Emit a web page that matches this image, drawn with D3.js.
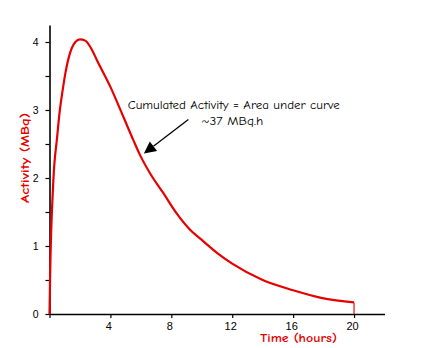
<!DOCTYPE html>
<html>
<head>
<meta charset="utf-8">
<script src="https://cdn.jsdelivr.net/npm/d3@7"></script>
<style>
  html, body { margin: 0; padding: 0; background: #fff; }
  svg { display: block; }
</style>
</head>
<body>
<svg id="chart" width="439" height="348"></svg>
<script>
// ---- data ----
const timeHours = [0, 0.04, 0.25, 0.5, 0.68, 0.85, 1.05, 1.35, 1.7, 2.0, 2.35, 2.8, 3.1, 4.0, 4.85, 5.5, 5.94, 6.6, 7.47, 8.35, 9.23, 10.0, 11.0, 12.0, 14.0, 16.0, 18.0, 20.0];
const activityMBq = [0, 0.55, 1.95, 2.6, 3.0, 3.27, 3.55, 3.84, 4.0, 4.04, 4.02, 3.88, 3.74, 3.34, 2.90, 2.56, 2.34, 2.07, 1.78, 1.48, 1.24, 1.09, 0.90, 0.74, 0.5, 0.35, 0.23, 0.17];
const xTickValues = [0, 4, 8, 12, 16, 20];
const yTickValues = [0, 0.5, 1, 1.5, 2, 2.5, 3, 3.5, 4];
const xTitle = "Time (hours)";
const yTitle = "Activity (MBq)";
const noteLines = ["Cumulated Activity = Area under curve", "~37 MBq.h"];
const noteAnchorT = [12.1, 12.0];      // text centres (hours)
const noteAnchorV = [3.01, 2.78];      // text baselines (MBq)
const arrowFrom = [9.12, 2.86];        // [hours, MBq]
const arrowTo = [6.2, 2.36];

// ---- layout ----
const svg = d3.select("#chart");
const red = "#e60000";
const x = d3.scaleLinear().domain([0, 22]).range([49.5, 384.5]);
const y = d3.scaleLinear().domain([0, 4.25]).range([314, 25]);

// axes
const xAxis = d3.axisBottom(x).tickValues(xTickValues)
  .tickFormat(d => d === 0 ? "" : d).tickSize(4).tickPadding(4).tickSizeOuter(0);
const gx = svg.append("g").attr("transform", "translate(0,314)").call(xAxis);
const yAxis = d3.axisLeft(y).tickValues(yTickValues)
  .tickFormat(d => Number.isInteger(d) ? d : "").tickSize(4).tickPadding(7).tickSizeOuter(0);
const gy = svg.append("g").attr("transform", "translate(49.5,0)").call(yAxis);

[gx, gy].forEach(g => {
  g.selectAll("path.domain").attr("stroke", "#000").attr("stroke-width", 1.6);
  g.selectAll(".tick line").attr("stroke", "#000").attr("stroke-width", 1.2);
  g.selectAll(".tick text").attr("fill", "#000")
    .style("font-family", "'Liberation Sans', Arial, sans-serif").style("font-size", "11px");
});
gx.selectAll(".tick text").attr("dx", "-2px");
gy.selectAll(".tick text").style("font-size", "10.5px");

// curve
const pts = timeHours.map((t, i) => [t, activityMBq[i]]);
const line = d3.line().x(d => x(d[0])).y(d => y(d[1])).curve(d3.curveMonotoneX);
svg.append("path").datum(pts).attr("d", line)
  .attr("fill", "none").attr("stroke", red).attr("stroke-width", 2.2)
  .attr("stroke-linejoin", "round");
// drop to zero at last time
const last = pts[pts.length - 1];
svg.append("path").datum([last, [last[0], 0]])
  .attr("d", d3.line().x(d => x(d[0])).y(d => y(d[1])))
  .attr("fill", "none").attr("stroke", red).attr("stroke-width", 1.6).attr("stroke-opacity", 0.7);

// axis titles
const titleFont = "'Comic Sans MS', 'Comic Neue', 'DejaVu Sans', sans-serif";
svg.append("text").text(xTitle)
  .attr("x", 298.5).attr("y", 342).attr("text-anchor", "middle")
  .attr("fill", red).style("font-family", titleFont).style("font-weight", "bold")
  .style("font-size", "12.5px").attr("textLength", 77).attr("lengthAdjust", "spacingAndGlyphs");
svg.append("text").text(yTitle)
  .attr("transform", "translate(29,158) rotate(-90)").attr("text-anchor", "middle")
  .attr("fill", red).style("font-family", titleFont).style("font-weight", "bold")
  .style("font-size", "12.5px").attr("textLength", 90).attr("lengthAdjust", "spacingAndGlyphs");

// annotation
const noteLens = [212, 62];
noteLines.forEach((s, i) => {
  svg.append("text").text(s)
    .attr("x", x(noteAnchorT[i])).attr("y", y(noteAnchorV[i])).attr("text-anchor", "middle")
    .attr("fill", "#000").style("font-family", titleFont).style("font-size", "12px")
    .attr("textLength", noteLens[i]).attr("lengthAdjust", "spacingAndGlyphs");
});

// arrow
const ax0 = x(arrowFrom[0]), ay0 = y(arrowFrom[1]);
const ax1 = x(arrowTo[0]), ay1 = y(arrowTo[1]);
const len = Math.hypot(ax1 - ax0, ay1 - ay0);
const ux = (ax1 - ax0) / len, uy = (ay1 - ay0) / len;
const headL = 12, headW = 6;
const bx = ax1 - ux * headL, by = ay1 - uy * headL;
svg.append("line").attr("x1", ax0).attr("y1", ay0).attr("x2", bx).attr("y2", by)
  .attr("stroke", "#000").attr("stroke-width", 1.3);
svg.append("path")
  .attr("d", d3.line()([[ax1, ay1], [bx - uy * headW, by + ux * headW], [bx + uy * headW, by - ux * headW]]) + "Z")
  .attr("fill", "#000");
</script>
</body>
</html>
